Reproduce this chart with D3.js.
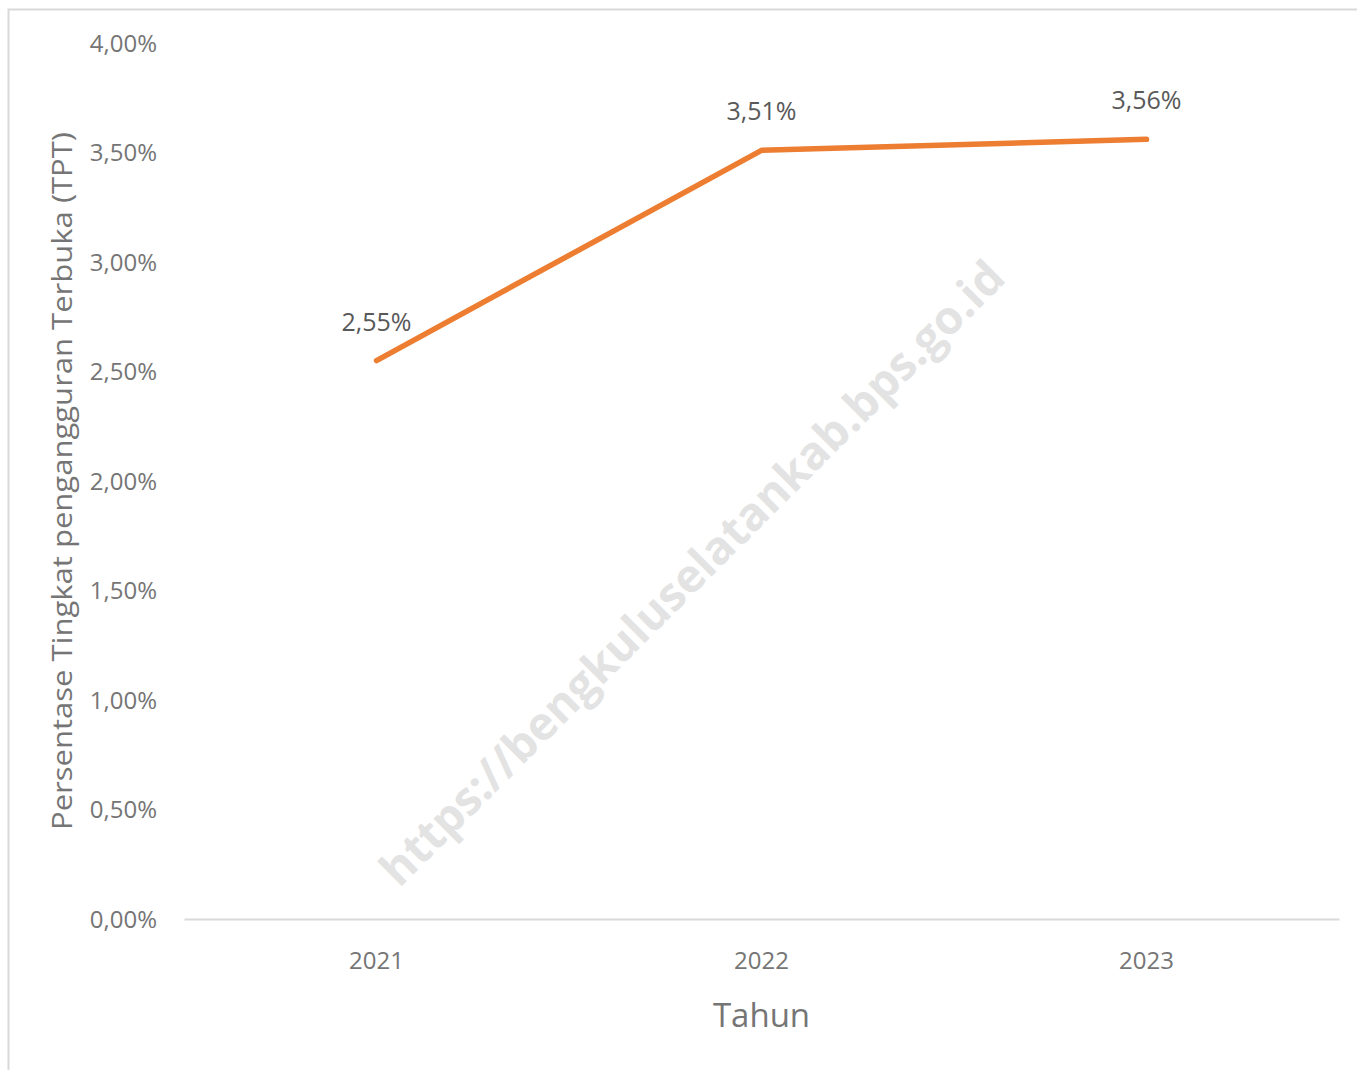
<!DOCTYPE html>
<html>
<head>
<meta charset="utf-8">
<script src="https://cdn.jsdelivr.net/npm/d3@7"></script>
<style>
  body { margin: 0; background: #fff; }
  text { font-family: "Open Sans", "Noto Sans", sans-serif; }
</style>
</head>
<body>
<svg id="chart" width="1357" height="1070"></svg>
<script>
const years = ['2021', '2022', '2023'];
const tpt = [2.55, 3.51, 3.56];
const yTicks = [0, 0.5, 1, 1.5, 2, 2.5, 3, 3.5, 4];

const svg = d3.select('#chart');
const width = 1357, height = 1070;
const margin = { top: 43, right: 18, bottom: 151, left: 184 };
const chartwidth = width - margin.left - margin.right;
const chartheight = height - margin.top - margin.bottom;

// outer frame
svg.append('rect')
  .attr('x', 8.5).attr('y', 9.5)
  .attr('width', 1360).attr('height', 1080)
  .attr('fill', 'none')
  .attr('stroke', '#d9d9d9')
  .attr('stroke-width', 2);

const fmt = v => d3.format('.2f')(v).replace('.', ',') + '%';

const xScale = d3.scaleBand().domain(years).range([0, chartwidth]);
const yScale = d3.scaleLinear().domain([0, 4]).range([chartheight, 0]);

const chart = svg.append('g')
  .attr('transform', `translate(${margin.left},${margin.top})`);

// x axis
const xAxis = chart.append('g')
  .attr('transform', `translate(0,${chartheight})`)
  .call(d3.axisBottom(xScale).tickSize(0).tickPadding(33));
xAxis.select('.domain').attr('stroke', '#d9d9d9').attr('stroke-width', 2);
xAxis.selectAll('text').attr('fill', '#757575').attr('font-size', 24);

// y axis
const yAxis = chart.append('g')
  .call(d3.axisLeft(yScale).tickValues(yTicks).tickFormat(fmt).tickSize(0).tickPadding(27));
yAxis.select('.domain').remove();
yAxis.selectAll('text').attr('fill', '#757575').attr('font-size', 24).attr('dy', '0.35em');

// watermark
svg.append('text')
  .attr('transform', 'translate(692,573) rotate(-45)')
  .attr('text-anchor', 'middle')
  .attr('dy', '0.35em')
  .attr('font-family', 'Liberation Sans, Arial, sans-serif')
  .attr('font-weight', 'bold')
  .attr('font-size', 46)
  .attr('fill', '#e3e3e3')
  .attr('textLength', 860)
  .attr('lengthAdjust', 'spacingAndGlyphs')
  .text('https://bengkuluselatankab.bps.go.id');

const pts = years.map((y, i) => ({ year: y, value: tpt[i] }));
const cx = d => xScale(d.year) + xScale.bandwidth() / 2;

const line = d3.line()
  .x(cx)
  .y(d => yScale(d.value));

chart.append('path')
  .datum(pts)
  .attr('fill', 'none')
  .attr('stroke', '#ED7D31')
  .attr('stroke-width', 5.5)
  .attr('stroke-linecap', 'round')
  .attr('stroke-linejoin', 'round')
  .attr('d', line);

chart.selectAll('.label')
  .data(pts)
  .enter().append('text')
  .attr('class', 'label')
  .attr('x', cx)
  .attr('y', d => yScale(d.value) - 30)
  .attr('text-anchor', 'middle')
  .attr('fill', '#595959')
  .attr('font-size', 25)
  .text(d => fmt(d.value));

// axis titles
svg.append('text')
  .attr('x', margin.left + chartwidth / 2)
  .attr('y', 1027)
  .attr('text-anchor', 'middle')
  .attr('fill', '#757575')
  .attr('font-size', 33)
  .text('Tahun');

svg.append('text')
  .attr('transform', `translate(72,${margin.top + 438}) rotate(-90)`)
  .attr('text-anchor', 'middle')
  .attr('fill', '#757575')
  .attr('font-size', 28)
  .attr('textLength', 698)
  .attr('lengthAdjust', 'spacingAndGlyphs')
  .text('Persentase Tingkat pengangguran Terbuka (TPT)');
</script>
</body>
</html>
